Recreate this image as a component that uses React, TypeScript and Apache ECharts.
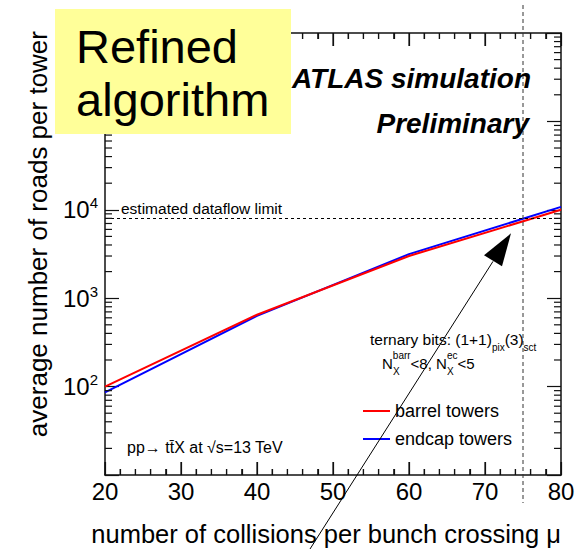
import React, { useEffect, useRef } from "react";
import * as echarts from "echarts";

const FONT = "'Liberation Sans', Arial, Helvetica, sans-serif";

// data
const mu = [20, 40, 60, 80];
const barrelTowers = [100, 650, 3000, 10000];
const endcapTowers = [86, 630, 3150, 10800];
const dataflowLimit = 8000;
const muLimit = 75;
const xTicks = { min: 20, max: 80, interval: 10, minorStep: 2 };
const yRange = { min: 10, max: 1e6 };
const yLabelExponents = [2, 3, 4];

// minor tick values for log axis (2..9 x 10^k)
const yMinorTicks: number[] = [];
for (let k = 1; k < 6; k++) {
  for (let m = 2; m <= 9; m++) yMinorTicks.push(m * Math.pow(10, k));
}
// x tick values (major every 10, minor every 2)
const xTickValues: number[] = [];
for (let v = xTicks.min; v <= xTicks.max; v += xTicks.minorStep) xTickValues.push(v);

const AXIS_COLOR = "#111";

export default function App() {
  const ref = useRef<HTMLDivElement>(null);
  useEffect(() => {
    document.body.style.margin = "0";
    if (!ref.current) return;
    const chart = echarts.init(ref.current, null, { renderer: "svg" });

    const xBase = {
      type: "value" as const,
      min: xTicks.min,
      max: xTicks.max,
      interval: xTicks.interval,
      splitLine: { show: false },
      axisLine: { show: true, onZero: false, lineStyle: { color: AXIS_COLOR, width: 1.5 } },
      axisTick: { show: true, inside: true, length: 13, lineStyle: { color: AXIS_COLOR, width: 1.2 } },
      minorTick: { show: true, splitNumber: 5, length: 6, lineStyle: { color: AXIS_COLOR, width: 1.2 } },
    };
    const yBase = {
      type: "log" as const,
      logBase: 10,
      min: yRange.min,
      max: yRange.max,
      splitLine: { show: false },
      axisLine: { show: true, onZero: false, lineStyle: { color: AXIS_COLOR, width: 1.5 } },
      axisTick: { show: true, inside: true, length: 14, lineStyle: { color: AXIS_COLOR, width: 1.2 } },
    };

    // ticks drawn as thin filled rects
    const hTick = (x: number, y: number, len: number) => ({
      type: "rect",
      shape: { x: len > 0 ? x : x + len, y: y - 0.6, width: Math.abs(len), height: 1.2 },
      style: { fill: AXIS_COLOR },
    });
    const vTick = (x: number, y: number, len: number) => ({
      type: "rect",
      shape: { x: x - 0.6, y: len > 0 ? y : y + len, width: 1.2, height: Math.abs(len) },
      style: { fill: AXIS_COLOR },
    });

    chart.setOption({
      animation: false,
      grid: { left: 105, right: 24, top: 33, bottom: 74 },
      legend: {
        data: ["barrel towers", "endcap towers"],
        orient: "vertical",
        left: 358,
        top: 397,
        itemWidth: 27,
        itemHeight: 2,
        itemGap: 10,
        icon: "rect",
        textStyle: { fontSize: 18, fontFamily: FONT, color: "#000" },
      },
      xAxis: [
        {
          ...xBase,
          position: "bottom",
          axisLabel: { fontSize: 24, fontFamily: FONT, color: "#000", margin: 4 },
        },
        { ...xBase, position: "top", axisLabel: { show: false } },
      ],
      yAxis: [
        {
          ...yBase,
          position: "left",
          axisLabel: {
            margin: 7,
            color: "#000",
            fontFamily: FONT,
            formatter: (v: number) => {
              const e = Math.round(Math.log10(v));
              if (!yLabelExponents.includes(e)) return "";
              return `{b|10}{s|${e}}`;
            },
            rich: {
              b: { fontSize: 24, fontFamily: FONT, color: "#000" },
              s: { fontSize: 15, fontFamily: FONT, color: "#000", padding: [0, 0, 14, 0] },
            },
          },
        },
        { ...yBase, position: "right", axisLabel: { show: false } },
      ],
      series: [
        {
          name: "barrel towers",
          type: "line",
          data: mu.map((x, i) => [x, barrelTowers[i]]),
          symbol: "none",
          lineStyle: { color: "#ff0000", width: 2 },
          itemStyle: { color: "#ff0000" },
          z: 3,
          markLine: {
            silent: true,
            symbol: "none",
            label: { show: false },
            lineStyle: { color: "#000", width: 1, type: [3, 3] },
            data: [{ yAxis: dataflowLimit }],
          },
        },
        {
          name: "endcap towers",
          type: "line",
          data: mu.map((x, i) => [x, endcapTowers[i]]),
          symbol: "none",
          lineStyle: { color: "#0000ff", width: 2 },
          itemStyle: { color: "#0000ff" },
          z: 2,
        },
        {
          name: "yMinorTicks",
          type: "custom",
          clip: false,
          silent: true,
          z: 5,
          data: yMinorTicks.map((v) => [xTicks.min, v]),
          renderItem: (params: any, api: any) => {
            const v = api.value(1);
            const pl = api.coord([xTicks.min, v]);
            const pr = api.coord([xTicks.max, v]);
            return {
              type: "group",
              children: [hTick(pl[0], pl[1], 7), hTick(pr[0], pr[1], -7)],
            };
          },
        },
        {
          name: "xTicks",
          type: "custom",
          clip: false,
          silent: true,
          z: 5,
          data: xTickValues.map((v) => [v, yRange.min]),
          renderItem: (params: any, api: any) => {
            const v = api.value(0);
            const len = v % xTicks.interval === 0 ? 13 : 6;
            const pb = api.coord([v, yRange.min]);
            const pt = api.coord([v, yRange.max]);
            return {
              type: "group",
              children: [vTick(pb[0], pb[1], -len), vTick(pt[0], pt[1], len)],
            };
          },
        },
      ],
    });

    const p = chart.convertToPixel({ xAxisIndex: 0, yAxisIndex: 0 }, [muLimit, dataflowLimit]) as number[];
    const pLimitLeft = chart.convertToPixel({ xAxisIndex: 0, yAxisIndex: 0 }, [xTicks.min, dataflowLimit]) as number[];
    const tip = [p[0] - 12, p[1] + 15];

    chart.setOption({
      graphic: [
        {
          type: "line",
          silent: true,
          z: 50,
          shape: { x1: p[0], y1: 5, x2: p[0], y2: 503 },
          style: { stroke: "#333", lineWidth: 1, lineDash: [4, 3] },
        },
        {
          type: "text",
          z: 50,
          x: pLimitLeft[0] + 16,
          y: pLimitLeft[1] - 10,
          style: { text: "estimated dataflow limit", fontSize: 15.5, fontFamily: FONT, fill: "#000", verticalAlign: "middle" },
        },
        {
          type: "line",
          z: 60,
          silent: true,
          shape: { x1: 310, y1: 549, x2: tip[0] - 18, y2: tip[1] + 28 },
          style: { stroke: "#000", lineWidth: 1 },
        },
        {
          type: "polygon",
          z: 60,
          silent: true,
          shape: { points: [tip, [tip[0] - 27, tip[1] + 22], [tip[0] - 9, tip[1] + 33]] },
          style: { fill: "#000" },
        },
        {
          type: "text",
          z: 50,
          x: 531,
          y: 78,
          style: { text: "ATLAS simulation", fontSize: 28, fontWeight: "bold", fontStyle: "italic", fontFamily: FONT, fill: "#000", align: "right", verticalAlign: "middle" },
        },
        {
          type: "text",
          z: 50,
          x: 529,
          y: 123,
          style: { text: "Preliminary", fontSize: 28, fontWeight: "bold", fontStyle: "italic", fontFamily: FONT, fill: "#000", align: "right", verticalAlign: "middle" },
        },
        {
          type: "text",
          z: 50,
          x: 370,
          y: 339,
          style: {
            text: "ternary bits: (1+1){sub|pix}(3){sub|sct}",
            fontSize: 15.5,
            fontFamily: FONT,
            fill: "#000",
            verticalAlign: "middle",
            rich: { sub: { fontSize: 10, fontFamily: FONT, fill: "#000", padding: [16, 0, 0, 0] } },
          },
        },
        {
          type: "group",
          x: 382,
          y: 363,
          z: 50,
          children: [
            {
              type: "text",
              style: {
                text: "N{sup|barr}<8, N{sup|ec}<5",
                fontSize: 15,
                fontFamily: FONT,
                fill: "#000",
                verticalAlign: "middle",
                rich: { sup: { fontSize: 10, fontFamily: FONT, fill: "#000", padding: [0, 0, 16, 0] } },
              },
            },
            { type: "text", x: 11, y: 8, style: { text: "X", fontSize: 10, fontFamily: FONT, fill: "#000", verticalAlign: "middle" } },
            { type: "text", x: 65, y: 8, style: { text: "X", fontSize: 10, fontFamily: FONT, fill: "#000", verticalAlign: "middle" } },
          ],
        },
        {
          type: "text",
          z: 50,
          x: 127,
          y: 447,
          style: { text: "pp\u2192 tt\u0304X at \u221As=13 TeV", fontSize: 16, fontFamily: FONT, fill: "#000", verticalAlign: "middle" },
        },
        {
          type: "text",
          z: 50,
          x: 38,
          y: 31,
          rotation: Math.PI / 2,
          style: { text: "average number of roads per tower", fontSize: 26, fontFamily: FONT, fill: "#000", align: "right", verticalAlign: "middle" },
        },
        {
          type: "text",
          z: 50,
          x: 561,
          y: 534,
          style: { text: "number of collisions per bunch crossing \u03BC", fontSize: 25.5, fontFamily: FONT, fill: "#000", align: "right", verticalAlign: "middle" },
        },
        {
          type: "rect",
          z: 100,
          shape: { x: 55, y: 9, width: 236, height: 125 },
          style: { fill: "#ffff99" },
        },
        {
          type: "text",
          z: 101,
          x: 76,
          y: 46,
          style: { text: "Refined", fontSize: 47, fontFamily: FONT, fill: "#000", verticalAlign: "middle" },
        },
        {
          type: "text",
          z: 101,
          x: 76,
          y: 99,
          style: { text: "algorithm", fontSize: 47, fontFamily: FONT, fill: "#000", verticalAlign: "middle" },
        },
      ],
    });

    return () => chart.dispose();
  }, []);
  return <div ref={ref} style={{ width: 585, height: 549 }} />;
}
